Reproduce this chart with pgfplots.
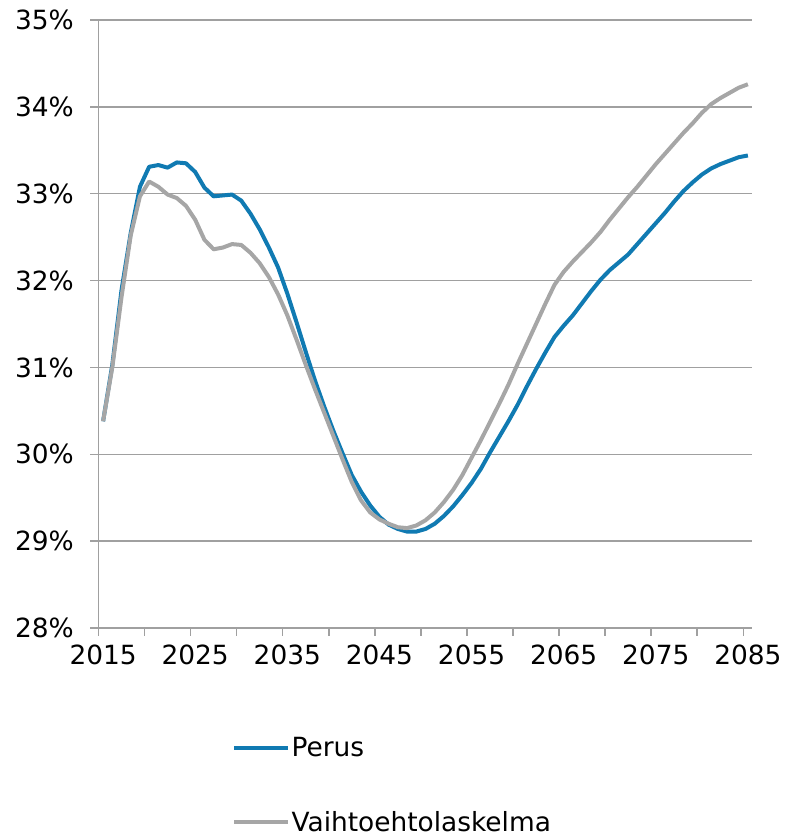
\documentclass[border=0pt]{standalone}
\usepackage{pgfplots}
\usepackage{pgfplotstable}
\pgfplotsset{compat=1.18}
\usepackage{fontspec}
\setmainfont{DejaVu Sans}
\definecolor{perus}{RGB}{16,122,178}
\definecolor{vaiht}{RGB}{166,166,166}
\definecolor{gridc}{RGB}{160,160,160}

\pgfplotstableread{
year val
2015 30.38
2016 31.03
2017 31.89
2018 32.55
2019 33.08
2020 33.31
2021 33.33
2022 33.30
2023 33.36
2024 33.35
2025 33.25
2026 33.07
2027 32.97
2028 32.98
2029 32.99
2030 32.92
2031 32.77
2032 32.59
2033 32.38
2034 32.15
2035 31.85
2036 31.52
2037 31.18
2038 30.85
2039 30.55
2040 30.27
2041 30.01
2042 29.76
2043 29.57
2044 29.41
2045 29.28
2046 29.19
2047 29.14
2048 29.11
2049 29.11
2050 29.14
2051 29.20
2052 29.29
2053 29.40
2054 29.53
2055 29.67
2056 29.83
2057 30.02
2058 30.20
2059 30.38
2060 30.57
2061 30.78
2062 30.98
2063 31.17
2064 31.35
2065 31.48
2066 31.60
2067 31.74
2068 31.88
2069 32.01
2070 32.12
2071 32.21
2072 32.30
2073 32.42
2074 32.54
2075 32.66
2076 32.78
2077 32.91
2078 33.03
2079 33.13
2080 33.22
2081 33.29
2082 33.34
2083 33.38
2084 33.42
2085 33.44
}\perustable

\pgfplotstableread{
year val
2015 30.38
2016 31.00
2017 31.81
2018 32.52
2019 32.97
2020 33.14
2021 33.08
2022 32.99
2023 32.95
2024 32.86
2025 32.70
2026 32.47
2027 32.36
2028 32.38
2029 32.42
2030 32.41
2031 32.32
2032 32.20
2033 32.04
2034 31.84
2035 31.60
2036 31.32
2037 31.03
2038 30.75
2039 30.48
2040 30.21
2041 29.94
2042 29.68
2043 29.47
2044 29.33
2045 29.25
2046 29.20
2047 29.16
2048 29.15
2049 29.18
2050 29.24
2051 29.33
2052 29.45
2053 29.59
2054 29.76
2055 29.96
2056 30.16
2057 30.37
2058 30.58
2059 30.80
2060 31.04
2061 31.27
2062 31.50
2063 31.73
2064 31.95
2065 32.10
2066 32.22
2067 32.33
2068 32.44
2069 32.56
2070 32.70
2071 32.83
2072 32.96
2073 33.08
2074 33.21
2075 33.34
2076 33.46
2077 33.58
2078 33.70
2079 33.81
2080 33.93
2081 34.03
2082 34.10
2083 34.16
2084 34.22
2085 34.26
}\vaihttable

\begin{document}
\begin{tikzpicture}
\begin{axis}[
  scale only axis,
  width=490.5pt, height=456pt,
  xmin=2014.5, xmax=2085.5,
  ymin=28, ymax=35,
  axis lines*=left,
  axis line style={gridc, line width=1.1pt},
  xtick={2015,2025,...,2085},
  xticklabels={2015,2025,2035,2045,2055,2065,2075,2085},
  minor xtick={2014.5,2019.5,...,2084.5},
  ytick={28,29,...,35},
  yticklabels={28\%,29\%,30\%,31\%,32\%,33\%,34\%,35\%},
  tick align=outside,
  major tick length=6pt,
  minor tick length=6pt,
  x tick style={draw=none},
  minor x tick style={draw=gridc, line width=1.1pt},
  y tick style={draw=gridc, line width=1.1pt},
  ymajorgrids,
  grid style={gridc, line width=1.1pt},
  tick label style={font=\fontsize{19.8}{23}\selectfont},
  /pgf/number format/assume math mode=true,
  xticklabel style={yshift=-3pt},
  yticklabel style={xshift=-9pt},
  clip=false,
  legend cell align=left,
  legend style={draw=none, fill=none, at={(rel axis cs:0.2041,-0.176)}, anchor=north west,
    inner sep=0pt, row sep=36.5pt, font=\fontsize{19.8}{23}\selectfont,
    nodes={inner sep=1.5pt}},
  legend image code/.code={\draw[#1, line width=3pt] (0pt,0pt) -- (40pt,0pt);},
]
\addplot[perus, line width=3pt, line join=round] table[x=year, y=val] {\perustable};
\addlegendentry{Perus}
\addplot[vaiht, line width=3pt, line join=round] table[x=year, y=val] {\vaihttable};
\addlegendentry{Vaihtoehtolaskelma}
\coordinate (bbll) at (rel axis cs:-0.1506,-0.3454);
\coordinate (bbur) at (rel axis cs:1.0482,1.0329);
\end{axis}
\pgfresetboundingbox
\useasboundingbox (bbll) rectangle (bbur);
\end{tikzpicture}
\end{document}
